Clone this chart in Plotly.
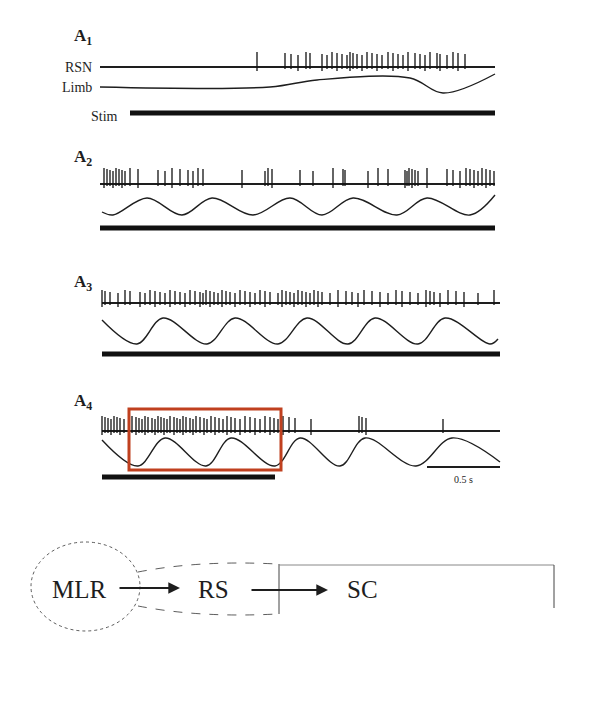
import plotly.graph_objects as go

W, H = 596, 702
OFF = 8  # default page body margin
INK = "#1e1e1e"
SERIF = "Times New Roman, Liberation Serif, serif"

# ---- data (pixel-space readings) ----
panel_labels = ["A<sub>1</sub>", "A<sub>2</sub>", "A<sub>3</sub>", "A<sub>4</sub>"]
label_y = [37, 158, 283, 402]
rsn_base_y = [67, 184, 303, 431]
rsn_x_range = [(100, 495), (100, 495), (102, 500), (102, 500)]
spike_height = [15, 16, 13, 15]

spikes_a1 = [257, 285, 291, 298, 306, 310, 322, 327, 332, 337, 342, 347, 350, 353, 357, 362,
             367, 372, 377, 382, 388, 393, 398, 403, 408, 415, 420, 425, 430, 437, 440, 447,
             453, 458, 465]
spikes_a2 = [104, 107, 110, 113, 116, 119, 122, 125, 130, 138, 158, 165, 172, 180, 188, 193,
             198, 203, 242, 265, 268, 272, 300, 313, 333, 343, 345, 368, 378, 388, 405, 407,
             409, 412, 415, 418, 427, 447, 453, 460, 466, 470, 474, 478, 482, 486, 490, 494]
spikes_a3 = [102, 105, 110, 118, 125, 130, 140, 145, 150, 155, 160, 165, 170, 175, 180, 185,
             190, 195, 200, 203, 206, 210, 214, 218, 222, 226, 230, 235, 240, 245, 250, 255,
             260, 265, 270, 278, 282, 286, 290, 294, 298, 302, 306, 310, 314, 318, 322, 330,
             338, 346, 352, 358, 364, 372, 380, 388, 396, 402, 410, 418, 426, 430, 434, 440,
             448, 456, 464, 478, 494]
spikes_a4 = [102, 105, 108, 111, 114, 117, 120, 124, 132, 136, 139, 142, 145, 148, 152, 155,
             158, 161, 164, 167, 170, 174, 177, 180, 183, 186, 190, 193, 196, 200, 204, 207,
             211, 215, 219, 223, 227, 231, 235, 240, 245, 250, 255, 260, 265, 270, 274, 278,
             283, 289, 295, 311, 359, 362, 366, 443]
spikes = [spikes_a1, spikes_a2, spikes_a3, spikes_a4]

limb_a1_x = [100, 270, 317, 410, 443, 495]
limb_a1_y = [87, 87, 80, 78, 93, 74]
limb_a2_x = [102, 113, 147, 182, 212, 253, 290, 322, 353, 397, 427, 470, 495]
limb_a2_y = [212, 215, 198, 215, 198, 215, 198, 215, 198, 215, 198, 215, 195]
limb_a3_x = [102, 137, 163, 207, 235, 278, 307, 348, 375, 418, 445, 490, 498]
limb_a3_y = [320, 344, 318, 344, 318, 344, 318, 344, 318, 344, 318, 344, 339]
limb_a4_x = [102, 138, 165, 206, 231, 275, 300, 340, 365, 416, 452, 500]
limb_a4_y = [440, 466, 438, 466, 438, 466, 438, 466, 438, 466, 438, 462]
limbs = [(limb_a1_x, limb_a1_y), (limb_a2_x, limb_a2_y), (limb_a3_x, limb_a3_y), (limb_a4_x, limb_a4_y)]

stim_x = [(130, 495), (100, 495), (102, 500), (102, 275)]
stim_y = [113, 228, 354, 477]

scale_bar_x = (427, 500)
scale_bar_y = 467
scale_label = "0.5 s"

fig = go.Figure()

for i in range(4):
    base = rsn_base_y[i]
    x0, x1 = rsn_x_range[i]
    fig.add_trace(go.Scatter(x=[x0, x1], y=[base, base], mode="lines",
                             line=dict(color=INK, width=2.2), hoverinfo="skip"))
    sx, sy = [], []
    for k, s in enumerate(spikes[i]):
        sx += [s, s, None]
        down = 4 if k % 3 == 0 else 2
        sy += [base + down, base - spike_height[i] + (k % 4), None]
    fig.add_trace(go.Scatter(x=sx, y=sy, mode="lines", line=dict(color="#111", width=1.3),
                             hoverinfo="skip"))
    lx, ly = limbs[i]
    fig.add_trace(go.Scatter(x=lx, y=ly, mode="lines",
                             line=dict(color=INK, width=1.4, shape="spline", smoothing=1.0),
                             hoverinfo="skip"))
    fig.add_trace(go.Scatter(x=list(stim_x[i]), y=[stim_y[i]] * 2, mode="lines",
                             line=dict(color="#111", width=5), hoverinfo="skip"))
    fig.add_annotation(x=72, y=label_y[i], text="<b>" + panel_labels[i] + "</b>",
                       showarrow=False, xanchor="left",
                       font=dict(family=SERIF, size=17, color=INK))

fig.add_trace(go.Scatter(x=list(scale_bar_x), y=[scale_bar_y] * 2, mode="lines",
                         line=dict(color=INK, width=2), hoverinfo="skip"))
fig.add_annotation(x=463, y=479, text=scale_label, showarrow=False,
                   font=dict(family=SERIF, size=10, color=INK))

for txt, y in [("RSN", 67), ("Limb", 87)]:
    fig.add_annotation(x=94, y=y, text=txt, showarrow=False, xanchor="right",
                       font=dict(family=SERIF, size=14, color=INK))
fig.add_annotation(x=120, y=116, text="Stim", showarrow=False, xanchor="right",
                   font=dict(family=SERIF, size=14, color=INK))

shapes = [
    dict(type="rect", x0=129, x1=281, y0=409, y1=470, line=dict(color="#c0401f", width=3)),
    dict(type="circle", x0=31, x1=140, y0=542, y1=631, line=dict(color="#333", width=0.8, dash="dot")),
    dict(type="path", path="M 138 572 Q 200 560 277 564", line=dict(color="#333", width=0.8, dash="dash")),
    dict(type="path", path="M 138 606 Q 200 618 277 614", line=dict(color="#333", width=0.8, dash="dash")),
    dict(type="line", x0=279, x1=279, y0=564, y1=614, line=dict(color="#444", width=1)),
    dict(type="line", x0=279, x1=554, y0=565, y1=565, line=dict(color="#888", width=1)),
    dict(type="line", x0=554, x1=554, y0=565, y1=608, line=dict(color="#444", width=1)),
]

for txt, x in [("MLR", 79), ("RS", 213), ("SC", 362)]:
    fig.add_annotation(x=x, y=589, text=txt, showarrow=False,
                       font=dict(family=SERIF, size=25, color=INK))
for (xa, xb, y) in [(118, 180, 588), (250, 328, 590)]:
    fig.add_annotation(x=xb, y=y, ax=xa, ay=y, axref="x", ayref="y", xref="x", yref="y",
                       text="", showarrow=True, arrowhead=2, arrowsize=1.3, arrowwidth=1.8,
                       arrowcolor=INK)

fig.update_layout(width=W, height=H, margin=dict(l=0, r=0, t=0, b=0),
                  plot_bgcolor="white", paper_bgcolor="white", showlegend=False,
                  shapes=shapes,
                  xaxis=dict(range=[OFF, W + OFF], visible=False, fixedrange=True),
                  yaxis=dict(range=[H + OFF, OFF], visible=False, fixedrange=True))
fig.write_html("out.html")
